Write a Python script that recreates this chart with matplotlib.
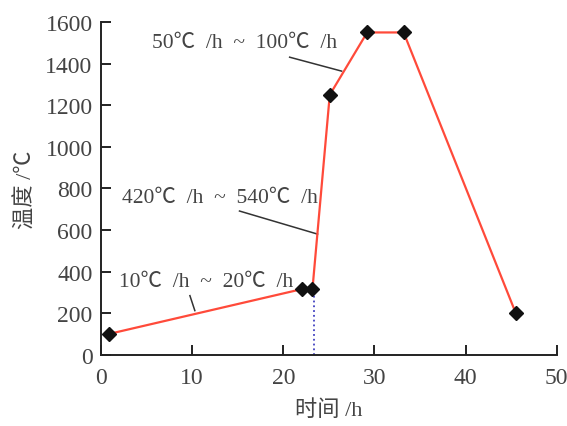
import matplotlib
matplotlib.use('Agg')
import matplotlib.pyplot as plt

# heating curve readings
time_h = [0.9, 22.0, 23.2, 25.1, 29.2, 33.2, 45.5]
temp_c = [100, 315, 315, 1250, 1550, 1550, 200]
hold_x = 23.4
hold_top = 315

xticks = [0, 10, 20, 30, 40, 50]
yticks = [0, 200, 400, 600, 800, 1000, 1200, 1400, 1600]

rates = ['10℃  /h  ~  20℃  /h', '420℃  /h  ~  540℃  /h', '50℃  /h  ~  100℃  /h']
text_pos = [(2.0, 354), (2.3, 758), (5.6, 1500)]
leader_from = [(9.76, 284), (15.2, 691), (20.7, 1431)]
leader_to = [(10.3, 212), (23.76, 580), (26.4, 1364)]

fam = ['Liberation Serif', 'Noto Sans CJK SC']
plt.rcParams['font.family'] = fam
plt.rcParams['axes.unicode_minus'] = False

fig = plt.figure(figsize=(5.67, 4.27), dpi=100)
ax = fig.add_axes([0.178, 0.167, 0.804, 0.779])

ax.plot([hold_x, hold_x], [0, hold_top], color='#4040c0', ls=':', lw=1.3, zorder=2)
ax.plot(time_h, temp_c, color='#ff4a3a', lw=1.6, zorder=3)
ax.plot(time_h, temp_c, ls='none', marker='D', ms=7, color='#111111', zorder=4)

for txt, tp, a, b in zip(rates, text_pos, leader_from, leader_to):
    ax.text(tp[0], tp[1], txt, fontsize=15.5, color='#444444', va='center', ha='left')
    ax.plot([a[0], b[0]], [a[1], b[1]], color='#333333', lw=1.1, zorder=2)

ax.set_xlim(0, 50)
ax.set_ylim(0, 1600)
ax.set_xticks(xticks)
ax.set_yticks(yticks)
ax.spines['top'].set_visible(False)
ax.spines['right'].set_visible(False)
for s in ['left', 'bottom']:
    ax.spines[s].set_linewidth(1.4)
    ax.spines[s].set_color('#222222')
ax.tick_params(direction='in', length=7, width=1.4, labelsize=17,
               labelcolor='#444444', color='#222222', pad=6)
ax.tick_params(axis='x', pad=9)

ax.set_xlabel('时间 /h', fontsize=16, color='#444444', labelpad=8)
ax.set_ylabel('温度 /℃', fontsize=16, color='#444444', labelpad=6)

fig.savefig('out.png', dpi=100)
